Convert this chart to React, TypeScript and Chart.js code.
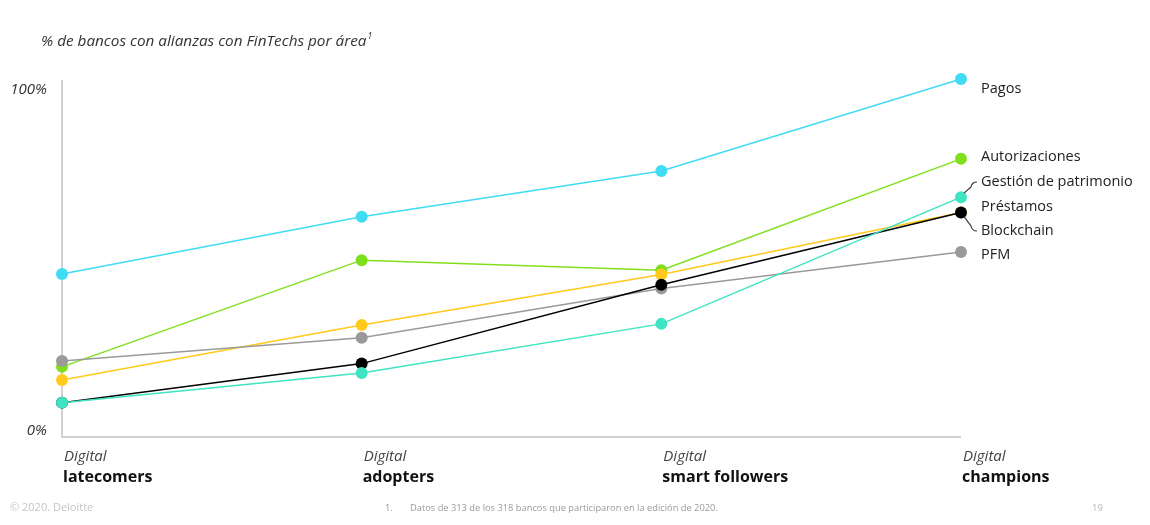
import React, { useEffect, useRef } from "react";
import { Chart, registerables } from "chart.js";

Chart.register(...registerables);

// ---- Data ----
const categoryPrefix = "Digital";
const categories = ["latecomers", "adopters", "smart followers", "champions"];
const seriesNames = [
  "Pagos",
  "Autorizaciones",
  "Gestión de patrimonio",
  "Préstamos",
  "Blockchain",
  "PFM",
];
const pagos = [45.5, 61.5, 74.3, 100];
const autorizaciones = [19.6, 49.4, 46.6, 77.7];
const gestionPatrimonio = [9.6, 17.9, 31.6, 67.0];
const prestamos = [15.9, 31.3, 45.4, 62.7];
const blockchain = [9.6, 20.5, 42.5, 62.7];
const pfm = [21.2, 27.7, 41.5, 51.7];
const yTickValues = [0, 100];
const yTickLabels = ["0%", "100%"];
const title = "% de bancos con alianzas con FinTechs por área";
const footnote = "Datos de 313 de los 318 bancos que participaron en la edición de 2020.";

const seriesValues = [pagos, autorizaciones, gestionPatrimonio, prestamos, blockchain, pfm];
const seriesColors = ["#40dcf3", "#80df1c", "#3fe4c3", "#ffca1c", "#000000", "#9a9a9a"];
const seriesOrder = [5, 4, 0, 3, 1, 2];
// label vertical positions (layout)
const labelY = [89, 157, 182, 206.5, 231, 255];

const FONT = "'Open Sans', 'Noto Sans', sans-serif";

const overlay = {
  id: "overlay",
  beforeDatasetsDraw(chart: any) {
    const { ctx, chartArea } = chart;
    const { left, right, top, bottom } = chartArea;
    ctx.save();
    ctx.strokeStyle = "#d2d2d2";
    ctx.lineWidth = 2;
    ctx.beginPath();
    ctx.moveTo(left, top + 1);
    ctx.lineTo(left, bottom);
    ctx.lineTo(right, bottom);
    ctx.stroke();
    ctx.restore();
  },
  afterDraw(chart: any) {
    const { ctx, chartArea, scales } = chart;
    const { left, right } = chartArea;
    const xs = scales.x;
    const ys = scales.y;
    ctx.save();
    ctx.textBaseline = "middle";

    // title
    ctx.fillStyle = "#333";
    ctx.textAlign = "left";
    ctx.font = `italic 15.3px ${FONT}`;
    ctx.fillText(title, 41, 42);
    const tw = ctx.measureText(title).width;
    ctx.font = `italic 8.5px ${FONT}`;
    ctx.fillText("1", 41 + tw + 1, 37);

    // y tick labels
    ctx.font = `italic 15px ${FONT}`;
    ctx.textAlign = "right";
    ctx.fillStyle = "#333";
    yTickValues.forEach((v, i) => {
      const py = ys.getPixelForValue(v);
      const off = v === 100 ? 11 : -6;
      ctx.fillText(yTickLabels[i], left - 15, py + off);
    });

    // x category labels
    ctx.textAlign = "left";
    categories.forEach((c, i) => {
      const px = xs.getPixelForValue(i);
      ctx.font = `italic 15px ${FONT}`;
      ctx.fillStyle = "#444";
      ctx.fillText(categoryPrefix, px + 2, 457);
      ctx.font = `bold 16px ${FONT}`;
      ctx.fillStyle = "#111";
      ctx.fillText(c, px + 1, 477);
    });

    // series labels on the right
    ctx.font = `14.5px ${FONT}`;
    ctx.fillStyle = "#222";
    seriesNames.forEach((n, i) => {
      ctx.fillText(n, right + 20, labelY[i]);
    });

    // connectors
    const lastIdx = categories.length - 1;
    const px = xs.getPixelForValue(lastIdx);
    ctx.strokeStyle = "#333";
    ctx.lineWidth = 1.2;
    const gy = ys.getPixelForValue(gestionPatrimonio[lastIdx]);
    ctx.beginPath();
    ctx.moveTo(px + 3, gy - 4);
    ctx.lineTo(px + 10, labelY[2] + 5);
    ctx.quadraticCurveTo(px + 11, labelY[2], px + 16, labelY[2]);
    ctx.stroke();
    const by = ys.getPixelForValue(blockchain[lastIdx]);
    ctx.beginPath();
    ctx.moveTo(px + 3, by + 4);
    ctx.lineTo(px + 10, labelY[4] - 5);
    ctx.quadraticCurveTo(px + 11, labelY[4], px + 16, labelY[4]);
    ctx.stroke();

    // footer
    ctx.font = `11px ${FONT}`;
    ctx.fillStyle = "#c4c4c4";
    ctx.fillText("© 2020. Deloitte", 10, 508);
    ctx.font = `9.3px ${FONT}`;
    ctx.fillStyle = "#9a9a9a";
    ctx.fillText("1.", 385, 508);
    ctx.fillText(footnote, 410, 508);
    ctx.fillStyle = "#b8b8b8";
    ctx.font = `9.5px ${FONT}`;
    ctx.fillText("19", 1092, 508);

    ctx.restore();
  },
};

export default function App() {
  const ref = useRef<HTMLCanvasElement>(null);
  useEffect(() => {
    if (!ref.current) return;
    const chart = new Chart(ref.current, {
      type: "line",
      data: {
        labels: categories,
        datasets: seriesNames.map((name, i) => ({
          label: name,
          data: seriesValues[i],
          borderColor: seriesColors[i],
          backgroundColor: seriesColors[i],
          pointBackgroundColor: seriesColors[i],
          pointBorderWidth: 0,
          pointRadius: 6,
          borderWidth: 1.5,
          tension: 0,
          clip: false as any,
          order: seriesOrder[i],
        })),
      },
      options: {
        responsive: false,
        animation: false,
        layout: { padding: { left: 62, right: 189, top: 79, bottom: 88 } },
        plugins: { legend: { display: false }, tooltip: { enabled: false }, title: { display: false } },
        scales: {
          x: { display: false, offset: false },
          y: { display: false, min: 0, max: 100 },
        },
        events: [],
      },
      plugins: [overlay],
    });
    return () => chart.destroy();
  }, []);
  return (
    <div style={{ position: "absolute", left: 0, top: 0, width: 1150, height: 525, background: "#fff" }}>
      <canvas ref={ref} width={1150} height={525} style={{ display: "block" }} />
    </div>
  );
}
